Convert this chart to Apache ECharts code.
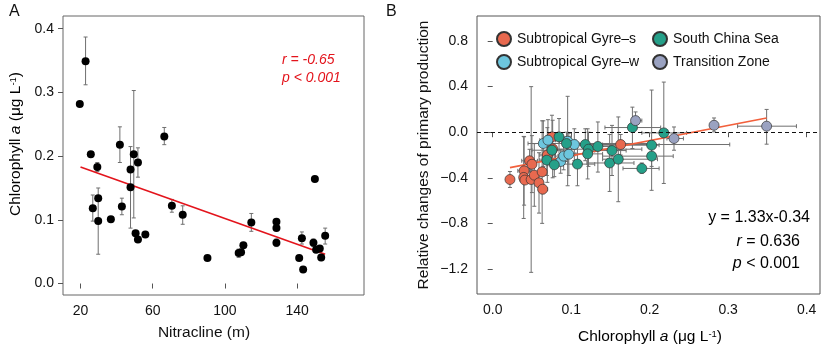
<!DOCTYPE html>
<html>
<head>
<meta charset="utf-8">
<script src="https://cdn.jsdelivr.net/npm/echarts@6/dist/echarts.min.js"></script>
<style>
  html, body { margin: 0; padding: 0; background: #fff; }
  #chart { width: 824px; height: 348px; }
</style>
</head>
<body>
<div id="chart"></div>
<script>
// ---------- Panel A: nitracline depth vs. chlorophyll a ----------
const nitracline = [19.6, 22.8, 25.7, 29.3, 26.8, 29.8, 29.8, 36.8, 41.8, 42.9,
  47.7, 47.7, 49.5, 51.8, 50.5, 51.8, 55.9, 66.4, 70.6, 76.6,
  90.3, 107.6, 108.9, 110.2, 114.6, 128.5, 128.5, 128.5, 141.1, 142.6,
  143.3, 149.8, 149.0, 150.5, 152.5, 153.3, 155.5];
const chlA = [0.282, 0.349, 0.203, 0.183, 0.118, 0.134, 0.098, 0.101, 0.218, 0.121,
  0.179, 0.151, 0.203, 0.190, 0.079, 0.069, 0.077, 0.231, 0.122, 0.108,
  0.040, 0.048, 0.049, 0.060, 0.096, 0.097, 0.087, 0.064, 0.040, 0.071,
  0.022, 0.164, 0.064, 0.053, 0.055, 0.041, 0.075];
// lower / upper ends of the standard deviation bars (null: no bar)
const chlALow = [null, 0.312, null, 0.176, 0.098, null, 0.046, null, 0.190, 0.108,
  null, 0.087, 0.103, 0.167, null, null, null, 0.218, 0.112, 0.093,
  null, 0.041, null, null, 0.082, null, null, 0.058, null, 0.062,
  null, null, 0.058, null, null, 0.036, 0.062];
const chlAHigh = [null, 0.387, null, 0.190, 0.139, null, 0.150, null, 0.246, 0.134,
  null, 0.215, 0.303, 0.213, null, null, null, 0.245, 0.132, 0.122,
  null, 0.054, null, null, 0.110, null, null, 0.070, null, 0.081,
  null, null, 0.070, null, null, 0.046, 0.087];
const fitA = { slope: -0.00101, intercept: 0.2032, from: 20, to: 155.5 };
const ticksAx = [20, 60, 100, 140];
const ticksAy = [0, 0.1, 0.2, 0.3, 0.4];

// ---------- Panel B: chlorophyll a vs. relative change of primary production ----------
// rows: [chl a, change, chl low, chl high, change low, change high]
const gyreS = [
  [0.022, -0.415, null, null, -0.485, -0.345],
  [0.040, -0.339, 0.032, 0.048, -0.64, -0.04],
  [0.0395, -0.397, null, null, -0.757, -0.037],
  [0.041, -0.420, 0.035, 0.047, null, null],
  [0.047, -0.251, 0.037, 0.057, -0.35, -0.15],
  [0.050, -0.281, null, null, -0.53, -0.03],
  [0.049, -0.415, null, null, -1.23, 0.40],
  [0.053, -0.377, null, null, -0.65, -0.10],
  [0.059, -0.444, null, null, -0.71, -0.18],
  [0.063, -0.348, null, null, -0.80, 0.10],
  [0.0637, -0.500, 0.058, 0.070, -0.54, -0.46],
  [0.0696, -0.200, 0.060, 0.080, -0.44, 0.04],
  [0.0764, -0.146, null, null, -0.40, 0.105],
  [0.0755, -0.041, 0.068, 0.083, -0.23, 0.149],
  [0.163, -0.108, 0.137, 0.302, -0.20, -0.02]
];
const gyreW = [
  [0.0645, -0.099, 0.045, 0.090, -0.30, 0.10],
  [0.0704, -0.070, 0.060, 0.080, -0.25, 0.11],
  [0.0955, -0.079, 0.085, 0.106, -0.47, 0.315],
  [0.104, -0.108, 0.090, 0.118, -0.25, 0.03],
  [0.0866, -0.257, 0.078, 0.096, -0.36, -0.15],
  [0.0904, -0.210, 0.080, 0.100, -0.33, -0.09],
  [0.097, -0.193, 0.088, 0.106, -0.38, -0.01]
];
const southChinaSea = [
  [0.0845, -0.041, 0.070, 0.100, -0.20, 0.12],
  [0.0755, -0.158, 0.050, 0.100, -0.28, -0.04],
  [0.069, -0.245, 0.060, 0.080, -0.38, -0.11],
  [0.0785, -0.286, 0.070, 0.090, -0.39, -0.18],
  [0.094, -0.099, 0.075, 0.200, -0.20, 0.00],
  [0.108, -0.280, 0.090, 0.130, -0.47, -0.09],
  [0.118, -0.108, 0.100, 0.140, -0.25, 0.03],
  [0.122, -0.149, 0.070, 0.190, -0.30, 0.00],
  [0.121, -0.190, 0.100, 0.140, -0.41, 0.03],
  [0.134, -0.125, 0.120, 0.150, -0.35, 0.09],
  [0.152, -0.161, 0.130, 0.170, -0.38, 0.06],
  [0.149, -0.270, 0.120, 0.180, -0.52, -0.02],
  [0.160, -0.237, 0.140, 0.210, -0.61, 0.134],
  [0.178, 0.041, 0.143, 0.214, -0.143, 0.22],
  [0.190, -0.318, 0.166, 0.212, -0.36, -0.27],
  [0.2025, -0.114, 0.100, 0.212, -0.51, 0.37],
  [0.2025, -0.210, 0.140, 0.230, -0.30, -0.12],
  [0.218, -0.006, 0.190, 0.247, -0.45, 0.44]
];
const transitionZone = [
  [0.182, 0.102, 0.177, 0.190, 0.03, 0.178],
  [0.231, -0.055, 0.222, 0.243, -0.158, 0.046],
  [0.282, 0.061, null, null, 0.003, 0.125],
  [0.349, 0.053, 0.312, 0.387, -0.105, 0.20]
];
const fitB = { slope: 1.33, intercept: -0.34, from: 0.022, to: 0.349 };
const ticksBx = [0, 0.1, 0.2, 0.3, 0.4];
const ticksBy = [-1.2, -0.8, -0.4, 0, 0.4, 0.8];

const groupNames = ['Subtropical Gyre\u2013s', 'Subtropical Gyre\u2013w', 'South China Sea', 'Transition Zone'];
const groupColors = ['#E8694F', '#6DC6DE', '#25A089', '#9AA2C1'];
const groupRows = [gyreS, gyreW, southChinaSea, transitionZone];

const FONT = "'Liberation Sans', Arial, Helvetica, sans-serif";
const BAR_COLOR = '#6f6f6f';

function errorBars(data, axisIdx, horizontal) {
  return {
    type: 'custom',
    xAxisIndex: axisIdx, yAxisIndex: axisIdx,
    silent: true, z: 1,
    data: data,
    encode: horizontal ? { x: [1, 2], y: 0 } : { x: 0, y: [1, 2] },
    renderItem: function (params, api) {
      const c = api.value(0), lo = api.value(1), hi = api.value(2);
      const a = horizontal ? api.coord([lo, c]) : api.coord([c, lo]);
      const b = horizontal ? api.coord([hi, c]) : api.coord([c, hi]);
      const cap = 2;
      const style = { stroke: BAR_COLOR, lineWidth: 1, fill: null };
      const kids = [{ type: 'line', shape: { x1: a[0], y1: a[1], x2: b[0], y2: b[1] }, style: style }];
      [a, b].forEach(function (p) {
        kids.push(horizontal
          ? { type: 'line', shape: { x1: p[0], y1: p[1] - cap, x2: p[0], y2: p[1] + cap }, style: style }
          : { type: 'line', shape: { x1: p[0] - cap, y1: p[1], x2: p[0] + cap, y2: p[1] }, style: style });
      });
      return { type: 'group', children: kids };
    }
  };
}

// panel A bars
const barsA = [];
nitracline.forEach(function (x, i) {
  if (chlALow[i] != null) barsA.push([x, chlALow[i], chlAHigh[i]]);
});

// panel B bars
const barsBv = [], barsBh = [];
groupRows.forEach(function (rows) {
  rows.forEach(function (r) {
    if (r[4] != null) barsBv.push([r[0], r[4], r[5]]);
    if (r[2] != null) barsBh.push([r[1], r[2], r[3]]);
  });
});

function fitLine(f) {
  return [[f.from, f.intercept + f.slope * f.from], [f.to, f.intercept + f.slope * f.to]];
}

const tickLabel = { fontFamily: FONT, fontSize: 14, color: '#111' };
const fmt1 = function (v) { return Number(v).toFixed(1).replace('-', '\u2212'); };

function valueAxis(idx, min, max, ticks, isX) {
  return {
    type: 'value', gridIndex: idx, min: min, max: max,
    splitLine: { show: false },
    axisLine: { show: false },
    axisTick: { show: true, inside: false, length: 5, lineStyle: { color: '#555' }, customValues: ticks },
    axisLabel: Object.assign({ customValues: ticks, margin: 9,
      formatter: isX && idx === 0 ? function (v) { return String(v); } : fmt1 }, tickLabel)
  };
}

const richTitle = {
  n: { fontFamily: FONT, fontSize: 15.5, color: '#111' },
  i: { fontFamily: FONT, fontSize: 15.5, color: '#111', fontStyle: 'italic' },
  s: { fontFamily: FONT, fontSize: 9.5, color: '#111', verticalAlign: 'top' }
};
const chlTitle = '{n|Chlorophyll }{i|a}{n| (\u03bcg L}{s|-1}{n|)}';

const richStat = {
  n: { fontFamily: FONT, fontSize: 16, color: '#111' },
  i: { fontFamily: FONT, fontSize: 16, color: '#111', fontStyle: 'italic' }
};

const series = [
  errorBars(barsA, 0, false),
  {
    type: 'line', xAxisIndex: 0, yAxisIndex: 0, data: fitLine(fitA),
    symbol: 'none', lineStyle: { color: '#E3141C', width: 1.6 }, z: 2, silent: true
  },
  {
    type: 'scatter', xAxisIndex: 0, yAxisIndex: 0,
    data: nitracline.map(function (x, i) { return [x, chlA[i]]; }),
    symbol: 'circle', symbolSize: 8, itemStyle: { color: '#000', opacity: 1 }, z: 3
  },
  errorBars(barsBh, 1, true),
  errorBars(barsBv, 1, false),
  {
    type: 'line', xAxisIndex: 1, yAxisIndex: 1, data: fitLine(fitB),
    symbol: 'none', lineStyle: { color: '#F2603C', width: 1.6 }, z: 2, silent: true,
    markLine: {
      silent: true, symbol: 'none', label: { show: false },
      lineStyle: { color: '#111', type: [4, 3], width: 1.2 },
      data: [{ yAxis: 0 }]
    }
  }
];
groupRows.forEach(function (rows, g) {
  series.push({
    name: groupNames[g], type: 'scatter', xAxisIndex: 1, yAxisIndex: 1,
    data: rows.map(function (r) { return [r[0], r[1]]; }),
    symbol: 'circle', symbolSize: 10,
    itemStyle: { color: groupColors[g], borderColor: '#333', borderWidth: 0.7, opacity: 1 },
    z: 3
  });
});

const legendBase = {
  orient: 'vertical', top: 26, itemWidth: 14, itemHeight: 14, itemGap: 7,
  icon: 'circle', selectedMode: false,
  textStyle: { fontFamily: FONT, fontSize: 14, color: '#111', padding: [0, 0, 0, 1] }
};

const option = {
  animation: false,
  backgroundColor: '#fff',
  grid: [
    { left: 63, top: 16, width: 301, height: 279, show: true, borderColor: '#666', borderWidth: 1, backgroundColor: 'transparent' },
    { left: 477, top: 16, width: 343, height: 278, show: true, borderColor: '#555', borderWidth: 1, backgroundColor: 'transparent' }
  ],
  xAxis: [
    valueAxis(0, 10.3, 177, ticksAx, true),
    valueAxis(1, -0.02, 0.417, ticksBx, true)
  ],
  yAxis: [
    valueAxis(0, -0.018, 0.42, ticksAy, false),
    valueAxis(1, -1.42, 1.02, ticksBy, false)
  ],
  legend: [
    Object.assign({ left: 491, data: [groupNames[0], groupNames[1]] }, legendBase),
    Object.assign({ left: 647, data: [groupNames[2], groupNames[3]] }, legendBase)
  ],
  graphic: [
    { type: 'text', left: 9, top: 4, style: { text: 'A', font: '16px ' + FONT, fill: '#111' } },
    { type: 'text', left: 386, top: 4, style: { text: 'B', font: '16px ' + FONT, fill: '#111' } },
    { type: 'text', x: 282, y: 60, style: { text: 'r = -0.65', font: 'italic 14px ' + FONT, fill: '#E3141C', verticalAlign: 'middle' } },
    { type: 'text', x: 282, y: 78, style: { text: 'p < 0.001', font: 'italic 14px ' + FONT, fill: '#E3141C', verticalAlign: 'middle' } },
    { type: 'text', x: 204, y: 333, style: { text: 'Nitracline (m)', font: '15.5px ' + FONT, fill: '#111', align: 'center', verticalAlign: 'middle' } },
    { type: 'text', x: 16, y: 144, rotation: Math.PI / 2,
      style: { text: chlTitle, rich: richTitle, align: 'center', verticalAlign: 'middle' } },
    { type: 'text', x: 650, y: 337, style: { text: chlTitle, rich: richTitle, align: 'center', verticalAlign: 'middle' } },
    { type: 'text', x: 424, y: 155, rotation: Math.PI / 2,
      style: { text: 'Relative changes of primary production', font: '15.5px ' + FONT, fill: '#111', align: 'center', verticalAlign: 'middle' } },
    { type: 'text', x: 810, y: 218, style: { text: '{n|y = 1.33x-0.34}', rich: richStat, align: 'right', verticalAlign: 'middle' } },
    { type: 'text', x: 800, y: 242, style: { text: '{i|r}{n| = 0.636}', rich: richStat, align: 'right', verticalAlign: 'middle' } },
    { type: 'text', x: 800, y: 264, style: { text: '{i|p}{n| < 0.001}', rich: richStat, align: 'right', verticalAlign: 'middle' } }
  ],
  series: series
};

const chart = echarts.init(document.getElementById('chart'), null, { renderer: 'canvas' });
chart.setOption(option);
</script>
</body>
</html>
